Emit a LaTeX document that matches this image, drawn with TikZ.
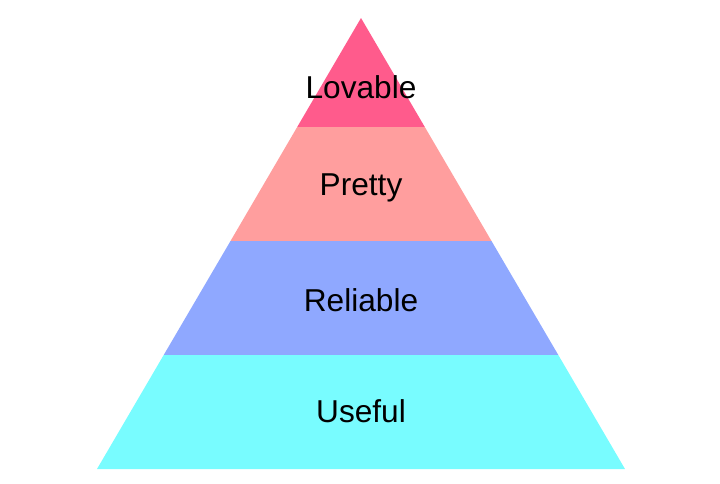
\documentclass[tikz,border=0pt]{standalone}
\usepackage{fontspec}
\setmainfont{Liberation Sans}
\definecolor{lovable}{HTML}{FF5B8C}
\definecolor{pretty}{HTML}{FF9E9E}
\definecolor{reliable}{HTML}{8FA8FF}
\definecolor{useful}{HTML}{78FCFF}
\tikzset{layer/.style={font=\fontsize{22.5}{27}\selectfont, text=black}}
\begin{document}
\begin{tikzpicture}[x=0.025cm,y=-0.025cm]
        \useasboundingbox (0,0) rectangle (720,483);

        \fill[lovable] (361,18) -- (424.8,127) -- (297.2,127) -- cycle;
        \fill[pretty] (297.2,127) -- (424.8,127) -- (491.5,241) -- (230.5,241) -- cycle;
        \fill[reliable] (230.5,241) -- (491.5,241) -- (558.3,355) -- (163.7,355) -- cycle;
        \fill[useful] (163.7,355) -- (558.3,355) -- (625,469) -- (97,469) -- cycle;

        \node[layer] (lov) at (361,87) {Lovable};
        \node[layer] (pre) at (361,188) {Pretty};
        \node[layer] (rel) at (361,300) {Reliable};
        \node[layer] (use) at (361,411) {Useful};

    \end{tikzpicture}
\end{document}
